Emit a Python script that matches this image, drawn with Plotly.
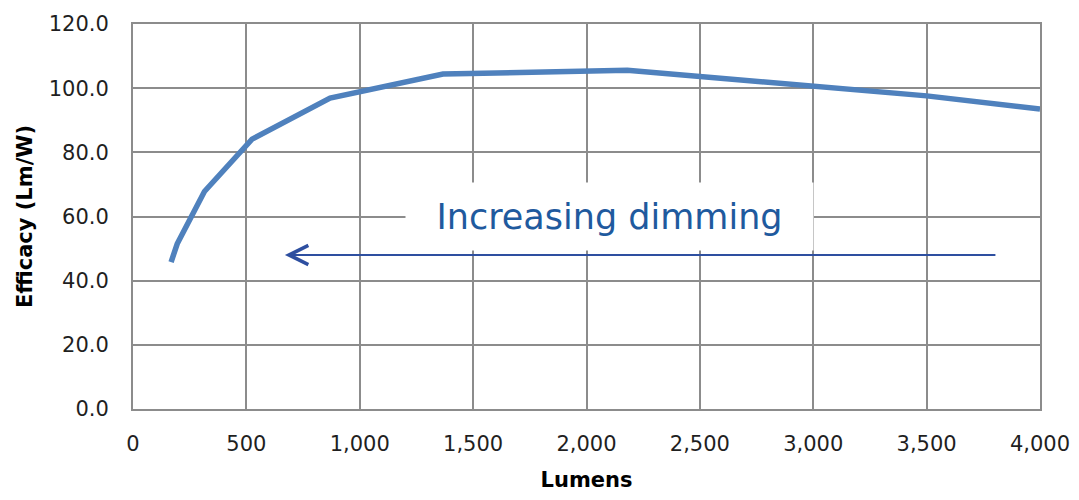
import plotly.graph_objects as go

lumens = [168, 195, 315, 525, 869, 1367, 2180, 2990, 3500, 4000]
efficacy = [45.8, 51.5, 67.8, 84.1, 96.9, 104.4, 105.6, 100.6, 97.6, 93.5]

x_ticks = [0, 500, 1000, 1500, 2000, 2500, 3000, 3500, 4000]
x_tick_labels = ["0", "500", "1,000", "1,500", "2,000", "2,500", "3,000", "3,500", "4,000"]
y_ticks = [0, 20, 40, 60, 80, 100, 120]
y_tick_labels = ["0.0", "20.0", "40.0", "60.0", "80.0", "100.0", "120.0"]

arrow_y = 48.0
arrow_from = 3810
arrow_to = 670
label_text = "Increasing dimming"
label_x = 2100
label_y = 60.0

fig = go.Figure()
fig.add_trace(go.Scatter(x=lumens, y=efficacy, mode="lines",
                         line=dict(color="#4f81bd", width=5.5),
                         showlegend=False, hoverinfo="skip"))

grid = "#8c8c8c"
tickfont = dict(family="DejaVu Sans", size=21, color="#1f1f1f")
titlefont = dict(family="DejaVu Sans", size=21, color="#000")
fig.update_xaxes(range=[0, 4000], tickvals=x_ticks, ticktext=x_tick_labels,
                 showgrid=True, gridcolor=grid, gridwidth=2,
                 showline=True, linecolor=grid, linewidth=2, mirror=True,
                 zeroline=False, tickfont=tickfont, ticks="", ticklabelstandoff=15,
                 title=dict(text="<b>Lumens</b>", font=titlefont, standoff=24))
fig.update_yaxes(range=[0, 120], tickvals=y_ticks, ticktext=y_tick_labels,
                 showgrid=True, gridcolor=grid, gridwidth=2,
                 showline=True, linecolor=grid, linewidth=2, mirror=True,
                 zeroline=False, tickfont=tickfont, ticks="", ticklabelstandoff=18,
                 title=dict(text="<b>Efficacy (Lm/W)</b>", font=titlefont, standoff=10))

fig.add_annotation(x=label_x, y=label_y, xref="x", yref="y", text=label_text,
                   showarrow=False, bgcolor="white", width=405, height=65,
                   font=dict(family="DejaVu Sans", size=35, color="#1f5a9e"))
fig.add_annotation(x=arrow_to, y=arrow_y, ax=arrow_from, ay=arrow_y,
                   xref="x", yref="y", axref="x", ayref="y", text="",
                   showarrow=True, arrowhead=5, arrowsize=2.1, arrowwidth=1.8,
                   arrowcolor="#2e4fa0")

fig.update_layout(width=1063, height=484, margin=dict(l=125, r=31, t=16, b=83, autoexpand=False),
                  paper_bgcolor="white", plot_bgcolor="white")
fig.write_html("out.html")
